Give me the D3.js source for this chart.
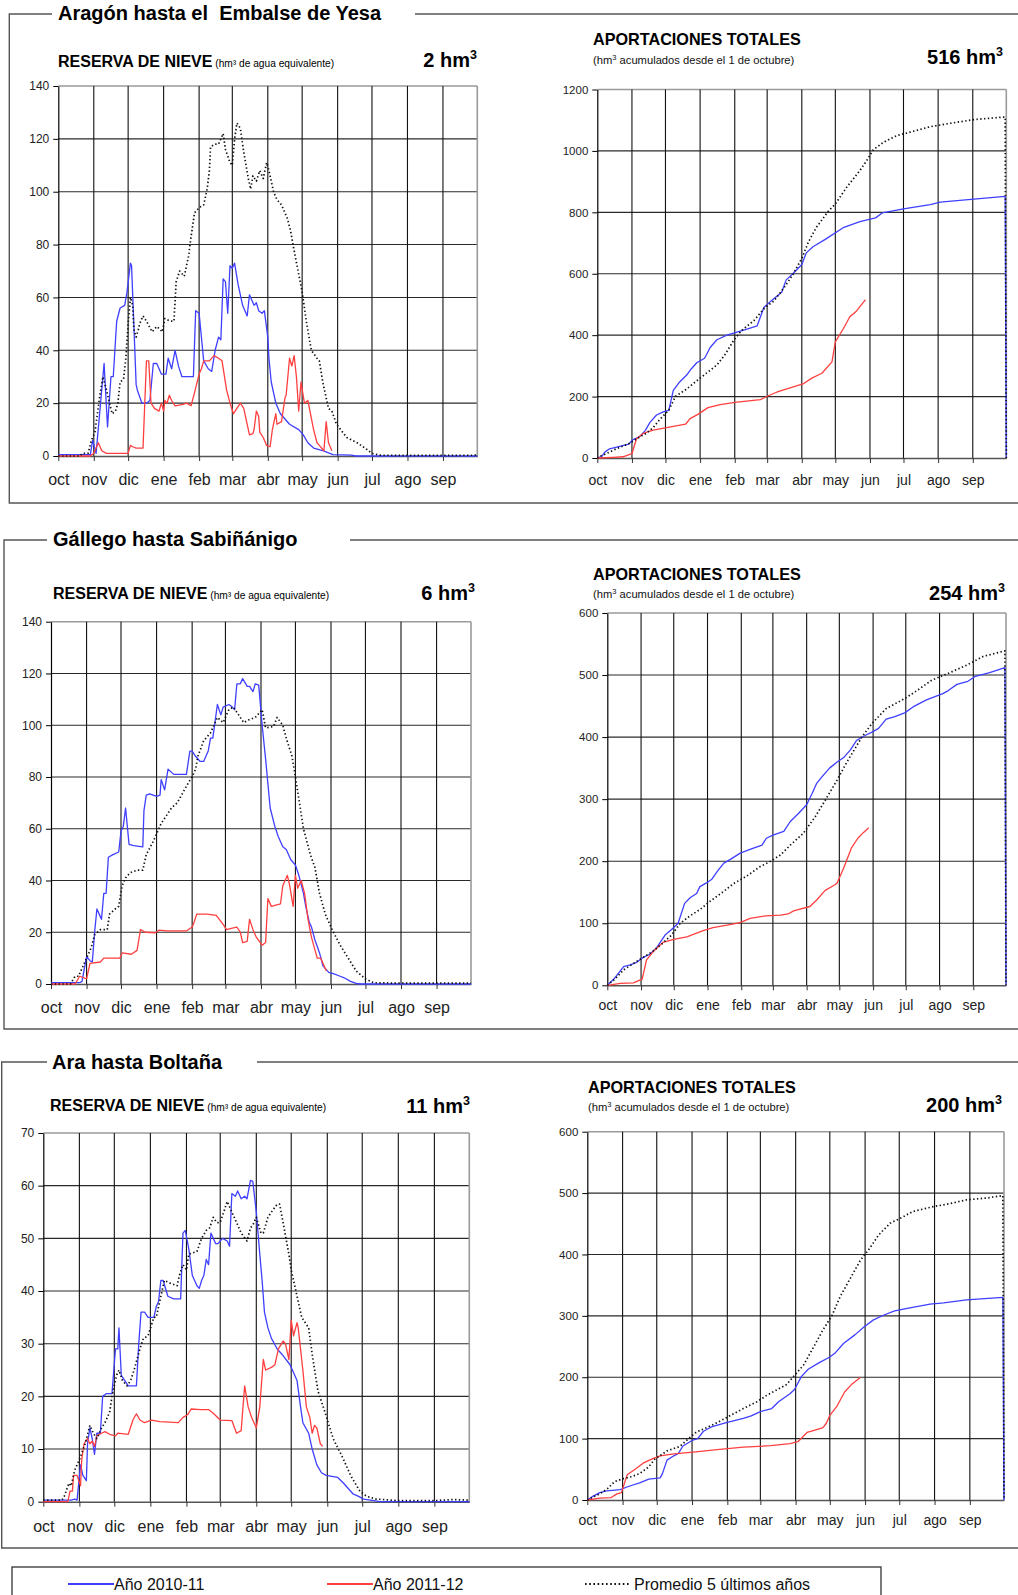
<!DOCTYPE html>
<html>
<head>
<meta charset="utf-8">
<script src="https://cdn.jsdelivr.net/npm/d3@7"></script>
<style>
	body { margin: 0; background: #fff; }
	svg { display: block; font-family: "Liberation Sans", Arial, sans-serif; }
	text { white-space: pre; }
</style>
</head>
<body>
<svg id="chart" width="1018" height="1595"></svg>
<script>
// Hydrological year: day 0 = 1 October
const monthLabels = ['oct', 'nov', 'dic', 'ene', 'feb', 'mar', 'abr', 'may', 'jun', 'jul', 'ago', 'sep']
const monthStarts = [0, 31, 61, 92, 123, 152, 183, 213, 244, 274, 305, 336]
const yearDays = 366

const basins = ['Aragón hasta el  Embalse de Yesa', 'Gállego hasta Sabiñánigo', 'Ara hasta Boltaña']
const nieveTotals = [2, 6, 11]
const aportTotals = [516, 254, 200]
const nieveMax = [140, 140, 70]
const aportMax = [1200, 600, 600]
const seriesNames = ['Año 2010-11', 'Año 2011-12', 'Promedio 5 últimos años']

// [day, hm3]
const aragonNieve1011 = [[0,0.5],[28,0.5],[30,6],[33,1],[40,35],[43,11],[46,30],[48,30],[51,51],[54,56],[58,57],[60,62],[63,73],[64,72],[68,27],[69,25],[73,20],[77,20],[80,21],[83,35],[86,35],[90,31],[94,31],[96,37],[99,33],[102,40],[105,34],[108,30],[118,30],[120,55],[123,54],[127,36],[131,33],[134,32],[137,40],[140,45],[142,44],[144,67],[146,66],[148,54],[150,72],[152,71],[154,73],[157,65],[161,57],[162,56],[165,53],[167,61],[169,59],[171,57],[173,58],[175,55],[178,54],[180,55],[183,45],[184,37],[186,28],[190,20],[194,16],[202,12],[210,10],[214,8],[218,5],[223,3],[231,2],[240,0.5],[256,0.3],[260,0],[366,0]]
const aragonNieve1112 = [[0,0],[28,0],[31,1],[35,5],[38,2],[42,1],[61,1],[63,4],[65,3.5],[68,3],[74,3],[77,36],[79,36],[81,20],[84,18],[88,17],[90,20],[92,17],[93,21],[95,20],[97,23],[99,21],[102,19],[109,19.5],[112,20],[116,19],[119,24],[123,31],[125,33],[127,36],[132,36],[136,38],[140,37],[143,36],[147,25],[150,20],[153,16],[156,18],[159,20],[162,18],[165,12],[167,8],[170,8.5],[171,10],[173,17],[175,15],[176,9],[179,7],[182,4],[185,3.5],[187,10],[190,16],[191,12],[195,13],[198,22],[199,23],[202,37],[204,34],[206,38],[208,30],[210,17],[212,28],[215,20],[218,21],[223,10],[226,5],[228,4],[232,2],[234,13],[236,5],[239,2]]
const aragonNieveMedia = [[0,0],[19,0],[21,1],[26,1],[29,6],[32,9],[36,22],[39,30],[42,25],[47,16],[50,17],[52,20],[54,28],[57,29],[59,37],[61,50],[63,60],[65,57],[66,48],[68,45],[70,48],[71,50],[74,53],[77,51],[82,47],[86,49],[91,47],[93,52],[98,51],[101,51],[103,66],[106,70],[110,68],[112,72],[114,76],[115,80],[119,92],[123,94],[127,95],[130,101],[132,108],[133,117],[137,118],[140,118],[144,122],[146,116],[150,111],[152,110],[154,120],[156,126],[159,124],[162,115],[166,105],[168,101],[170,106],[173,104],[176,108],[179,105],[182,111],[184,108],[188,100],[191,97],[195,95],[200,90],[203,85],[205,80],[213,62],[217,50],[221,40],[226,37],[228,36],[231,28],[236,18],[239,17],[243,12],[252,7],[261,5],[268,3],[274,1],[281,0.3],[313,0.2],[366,0.3]]

const aragonAport1011 = [[0,0],[4,5],[7,20],[11,30],[20,38],[28,45],[32,60],[38,70],[43,90],[47,115],[53,140],[59,150],[64,155],[68,220],[73,245],[80,270],[84,290],[89,310],[96,325],[101,360],[107,385],[116,400],[125,410],[134,420],[143,430],[149,490],[155,510],[165,540],[169,580],[175,600],[183,630],[187,668],[193,688],[204,712],[220,750],[235,770],[249,782],[255,798],[274,811],[298,825],[307,833],[337,843],[365,852],[366,0]]
const aragonAport1112 = [[0,0],[14,2],[23,4],[31,14],[35,62],[41,80],[50,91],[62,99],[79,110],[83,128],[90,142],[99,164],[110,174],[125,182],[146,190],[152,201],[161,215],[184,241],[192,260],[201,276],[210,313],[213,378],[220,420],[226,460],[232,479],[240,516]]
const aragonAportMedia = [[0,0],[2,5],[8,14],[17,30],[28,46],[35,62],[44,81],[50,99],[56,126],[64,156],[70,201],[79,222],[92,260],[107,303],[114,335],[122,383],[129,415],[140,447],[150,490],[158,511],[167,554],[175,597],[183,650],[189,704],[196,751],[207,805],[213,827],[223,881],[235,936],[241,968],[247,1004],[256,1028],[268,1050],[280,1061],[298,1079],[316,1090],[337,1102],[363,1110],[365,1110],[366,0]]

const gallegoNieve1011 = [[0,0.5],[25,0.5],[27,1],[31,10.6],[34,9],[36,8.5],[38,20],[40,29],[42,27],[44,25],[46,35],[48,35],[50,49],[54,50],[59,51],[61,59],[63,61],[65,68],[68,54],[72,53.5],[80,53],[81,67],[83,73],[86,73.5],[92,72.5],[95,73],[96,79],[99,75],[102,83],[107,81],[118,81],[121,90],[123,90],[126,88],[130,86],[133,86],[137,90],[139,95],[141,95],[145,108],[148,104],[150,107],[155,108],[158,107],[160,106],[162,116],[165,116],[167,118],[171,115],[173,115],[176,113],[178,116],[181,115.5],[184,100],[187,87],[191,68],[195,61],[198,57],[202,53],[205,52],[209,48],[213,46],[216,42],[220,35],[222,30],[225,24],[227,22],[230,17],[234,12],[237,7],[242,4.5],[246,4],[252,3],[255,2.5],[261,1],[266,0.2],[270,0],[366,0]]
const gallegoNieve1112 = [[0,0],[21,0],[25,3],[31,2],[34,8],[43,8.5],[46,10],[60,10],[62,12],[70,11.5],[75,13],[78,21],[82,20],[91,19.8],[94,20.8],[101,20.5],[118,20.5],[123,22],[124,23],[127,27],[136,27],[144,26.5],[150,23],[153,21],[157,21.5],[162,22],[165,20],[167,16],[171,16.5],[173,25],[176,21],[179,18],[184,15],[187,16],[189,33],[192,30],[200,31],[202,38],[204,40],[206,42],[208,38],[211,30],[213,42],[215,37],[218,40],[221,35],[224,25],[227,18],[232,10],[235,10],[237,8],[240,5]]
const gallegoNieveMedia = [[0,0],[17,0],[21,3],[24,3],[27,6],[32,11],[35,14],[38,19],[43,21],[49,21],[51,27],[56,29],[59,30],[62,38],[65,41],[69,43],[75,44],[80,44],[83,50],[89,55],[92,58],[96,62],[105,68],[110,70],[120,78],[123,80],[126,83],[128,88],[133,94],[139,97],[145,103],[150,101],[155,106],[159,107],[168,101],[172,102],[178,103],[184,106],[187,99],[194,99.5],[197,103],[202,100],[205,95],[210,88],[213,80],[220,60],[226,50],[230,45],[234,35],[239,27],[245,21],[252,15],[259,10],[266,5],[274,2],[281,0.5],[304,0.3],[366,0.3]]

const gallegoAport1011 = [[0,0],[6,10],[15,30],[21,33],[27,37],[33,45],[39,50],[45,60],[53,81],[59,90],[65,100],[71,132],[76,141],[82,148],[85,159],[91,165],[96,171],[102,186],[107,197],[113,203],[122,213],[131,219],[142,226],[146,237],[152,242],[162,248],[168,264],[175,276],[183,291],[188,309],[192,325],[197,336],[204,350],[211,360],[217,367],[223,379],[229,395],[237,403],[243,408],[249,414],[256,429],[264,433],[273,439],[281,449],[293,460],[308,470],[313,475],[321,485],[331,490],[338,498],[351,504],[365,512],[366,0]]
const gallegoAport1112 = [[0,0],[12,3],[24,4],[32,10],[36,41],[42,54],[51,69],[61,74],[73,78],[79,82],[88,88],[97,93],[110,97],[122,101],[131,108],[146,112],[159,113],[166,115],[171,120],[186,127],[192,137],[200,153],[209,162],[211,165],[217,189],[224,221],[230,237],[235,246],[240,254]]
const gallegoAportMedia = [[0,0],[7,10],[15,25],[24,35],[33,45],[42,55],[51,68],[59,81],[67,100],[76,112],[85,122],[94,135],[105,149],[116,164],[128,176],[140,191],[149,199],[159,210],[168,226],[180,245],[191,272],[201,301],[211,331],[220,360],[234,401],[243,422],[256,446],[273,462],[286,477],[298,492],[312,502],[330,516],[345,530],[365,539],[366,0]]

const araNieve1011 = [[0,0.3],[24,0.3],[27,0.5],[29,0.3],[32,7],[34,5],[37,4],[38,11],[40,14],[42,12],[44,9],[46,13],[49,13],[51,20],[54,20.5],[59,20.5],[62,29],[64,29],[65,33],[67,24],[70,23],[73,22],[80,22],[82,30],[84,36],[87,36],[90,35],[95,35],[97,37],[99,38],[101,42],[103,42],[107,39],[112,38.5],[118,38.5],[120,51],[122,51.5],[125,48],[128,43],[132,41],[134,40.5],[136,42],[138,43],[140,46],[142,45],[144,51],[148,49],[150,49],[154,50],[158,49.5],[160,48.5],[162,58.5],[165,58],[167,59],[170,57.5],[173,58],[175,57.5],[178,61],[180,60.8],[183,55],[186,47],[188,42],[190,36],[193,33],[196,31],[201,29],[205,28],[212,26],[218,23],[221,18],[223,15],[228,13],[231,10],[235,7],[239,5.5],[243,5],[248,4.8],[253,4.6],[258,3.5],[262,2.5],[266,1.5],[271,1],[275,0.5],[284,0.2],[289,0],[366,0]]
const araNieve1112 = [[0,0],[21,0],[23,2],[25,2],[26,5],[29,5],[32,3],[33,8],[35,11],[38,12],[40,11],[42,11.5],[44,10.5],[46,12.5],[50,13],[53,13.3],[57,12.8],[62,12.5],[64,13],[73,12.8],[77,15.5],[80,16.7],[83,15.5],[87,15],[93,15.5],[100,15.2],[116,15],[120,16],[124,16.5],[127,17.6],[135,17.5],[142,17.5],[146,16.8],[152,15.5],[162,15.4],[166,13],[170,13.5],[173,22],[176,18],[179,16],[183,14],[186,18],[189,27],[191,25],[196,25.5],[199,26],[202,29],[206,30.5],[208,30],[211,27],[213,34.5],[215,31.5],[218,34],[219,33],[223,25],[226,18],[229,16],[231,13],[233,14.5],[235,14],[238,11],[240,10.5]]
const araNieveMedia = [[0,0.3],[16,0.3],[18,1],[22,3.5],[24,3],[27,6],[31,8],[36,11],[40,14.5],[43,13],[46,12],[50,14],[53,15],[57,17],[59,20],[63,24],[65,25],[68,23],[72,22],[75,23],[78,25],[83,29],[86,31],[90,31.5],[95,35],[97,35],[100,38],[104,42],[109,41.5],[115,41],[117,43],[120,45],[123,44],[125,47],[132,47.5],[136,50],[140,51.5],[143,52],[146,54],[149,53],[152,53],[158,57],[160,56],[166,53],[170,51],[175,49.5],[178,52],[180,52.5],[183,54],[187,51],[189,51],[193,54],[196,55],[201,56.5],[203,56.5],[206,53],[211,47],[213,44],[218,39],[222,35],[228,33],[231,28],[236,21],[242,17],[249,12],[258,8],[264,5],[272,2],[278,1],[286,0.5],[306,0.2],[335,0.2],[352,0.4],[366,0.3]]

const araAport1011 = [[0,0],[4,5],[11,12],[17,15],[29,17],[36,22],[46,28],[54,34],[64,36],[66,43],[70,65],[76,72],[80,76],[84,88],[92,97],[97,100],[102,112],[109,119],[122,126],[137,133],[144,137],[152,144],[162,149],[168,160],[178,173],[182,180],[188,201],[194,213],[203,223],[213,233],[218,240],[225,255],[235,269],[243,282],[251,293],[260,301],[270,308],[281,312],[301,319],[313,321],[333,326],[365,330],[366,0]]
const araAport1112 = [[0,0],[11,3],[21,4],[26,10],[30,12],[35,41],[42,50],[49,60],[57,67],[64,72],[76,75],[93,78],[114,82],[137,86],[161,88.5],[178,92],[185,95],[193,110],[200,114],[207,118],[210,125],[213,138],[219,152],[226,176],[232,188],[240,200]]
const araAportMedia = [[0,0],[5,5],[11,10],[18,19],[24,30],[32,35],[39,38],[46,43],[54,54],[59,66],[70,80],[81,87],[89,100],[96,111],[105,118],[114,126],[122,134],[128,140],[137,149],[149,160],[158,171],[163,176],[175,188],[181,201],[190,220],[199,250],[207,277],[215,301],[222,331],[231,361],[240,391],[248,410],[256,432],[266,451],[275,459],[286,470],[304,478],[319,483],[333,489],[351,492],[365,496],[366,0]]

const nieveSeries = [
	[aragonNieve1011, aragonNieve1112, aragonNieveMedia],
	[gallegoNieve1011, gallegoNieve1112, gallegoNieveMedia],
	[araNieve1011, araNieve1112, araNieveMedia]
]
const aportSeries = [
	[aragonAport1011, aragonAport1112, aragonAportMedia],
	[gallegoAport1011, gallegoAport1112, gallegoAportMedia],
	[araAport1011, araAport1112, araAportMedia]
]

// Page geometry, one entry per basin
const layout = [
	{ top: 14, left: 9.3, bottom: 503, titleX: 58, titleY: 20, gap: [52, 415],
	  nieve: { x0: 58.3, x1: 477.3, y0: 456, y1: 86, tx: 58, ty: 67, totX: 477, totY: 67, lab: 29 },
	  aport: { x0: 597.3, x1: 1006.3, y0: 458, y1: 89.5, tx: 593, ty: 45, sy: 64, totX: 1003, totY: 64, lab: 27 } },
	{ top: 540, left: 4, bottom: 1029, titleX: 53, titleY: 546, gap: [47, 350],
	  nieve: { x0: 51, x1: 471, y0: 984, y1: 621.7, tx: 53, ty: 599, totX: 475, totY: 600, lab: 29 },
	  aport: { x0: 607.3, x1: 1006, y0: 985.3, y1: 613, tx: 593, ty: 580, sy: 598, totX: 1005, totY: 600, lab: 25 } },
	{ top: 1062, left: 1.7, bottom: 1548, titleX: 52, titleY: 1069, gap: [47, 257],
	  nieve: { x0: 43.3, x1: 469.3, y0: 1501.7, y1: 1133, tx: 50, ty: 1111, totX: 470, totY: 1113, lab: 30 },
	  aport: { x0: 587.3, x1: 1004, y0: 1500, y1: 1131.7, tx: 588, ty: 1093, sy: 1111, totX: 1002, totY: 1112, lab: 25 } }
]

const colors = ['#3f3fff', '#ff3f3f', '#111']

const $svg = d3.select('#chart')

function drawPanel($g, box, max, step, series, big) {
	const x = d3.scaleLinear().domain([0, yearDays]).range([box.x0, box.x1])
	const y = d3.scaleLinear().domain([0, max]).range([box.y0, box.y1])
	const ticks = d3.range(0, max + step / 2, step)

	// grid
	$g.append('g').selectAll('line')
		.data(ticks.slice(1))
		.join('line')
		.attr('x1', box.x0).attr('x2', box.x1)
		.attr('y1', d => y(d)).attr('y2', d => y(d))
		.attr('stroke', d => d === max ? '#9a9a9a' : '#2a2a2a')
		.attr('stroke-width', d => d === max ? 1.6 : 1.1)

	$g.append('g').selectAll('line')
		.data(monthStarts.slice(1).concat([yearDays]))
		.join('line')
		.attr('x1', d => x(d)).attr('x2', d => x(d))
		.attr('y1', box.y0).attr('y2', box.y1)
		.attr('stroke', d => d === yearDays ? '#9a9a9a' : '#111')
		.attr('stroke-width', d => d === yearDays ? 1.6 : 1.1)

	// axes
	const $xa = $g.append('g')
		.attr('transform', `translate(0,${box.y0})`)
		.call(d3.axisBottom(x).tickValues(monthStarts).tickSize(5).tickSizeOuter(0)
			.tickFormat((d, i) => monthLabels[i]))
	$xa.select('.domain').attr('stroke', '#555').attr('stroke-width', 1.4)
	$xa.selectAll('.tick line').attr('stroke', '#333')
	$xa.selectAll('text')
		.attr('y', box.lab).attr('dy', null)
		.attr('fill', '#222')
		.style('font-size', big ? '16px' : '14px')
		.style('font-family', '"Liberation Sans", Arial, sans-serif')

	const $ya = $g.append('g')
		.attr('transform', `translate(${box.x0},0)`)
		.call(d3.axisLeft(y).tickValues(ticks).tickSize(5).tickSizeOuter(0).tickPadding(4)
			.tickFormat(d3.format('d')))
	$ya.select('.domain').attr('stroke', '#000').attr('stroke-width', 1.2)
	$ya.selectAll('.tick line').attr('stroke', '#000')
	$ya.selectAll('text')
		.attr('fill', '#222')
		.style('font-size', big ? '12px' : '11.5px')
		.style('font-family', '"Liberation Sans", Arial, sans-serif')

	// series
	const line = d3.line().x(d => x(d[0])).y(d => y(d[1]))
	series.forEach((s, i) => {
		$g.append('path')
			.datum(s)
			.attr('d', line)
			.attr('fill', 'none')
			.attr('stroke', colors[i])
			.attr('stroke-width', i === 2 ? 1.7 : 1.3)
			.attr('stroke-dasharray', i === 2 ? '1.4 2.4' : null)
			.attr('stroke-linejoin', 'round')
	})
}

layout.forEach((L, idx) => {
	const $s = $svg.append('g')

	// section frame with title cut into the top line
	$s.append('path')
		.attr('d', `M${L.gap[0]},${L.top}H${L.left}V${L.bottom}H1018M${L.gap[1]},${L.top}H1018`)
		.attr('fill', 'none')
		.attr('stroke', '#555')
		.attr('stroke-width', 1.4)
	$s.append('text')
		.attr('x', L.titleX).attr('y', L.titleY)
		.style('font-size', '20px').style('font-weight', 'bold')
		.attr('fill', '#000')
		.text(basins[idx])

	// snow reserve panel
	const n = L.nieve
	const $t1 = $s.append('text').attr('x', n.tx).attr('y', n.ty).attr('fill', '#000')
	$t1.append('tspan').style('font-size', '16px').style('font-weight', 'bold').text('RESERVA DE NIEVE')
	$t1.append('tspan').style('font-size', '10.2px').text(' (hm³ de agua equivalente)')

	const $tot1 = $s.append('text').attr('x', n.totX).attr('y', n.totY)
		.attr('text-anchor', 'end').style('font-weight', 'bold').attr('fill', '#000')
	$tot1.append('tspan').style('font-size', '20px').text(`${nieveTotals[idx]} hm`)
	$tot1.append('tspan').style('font-size', '12.5px').attr('dy', -8).text('3')

	drawPanel($s.append('g'), n, nieveMax[idx], nieveMax[idx] / 7, nieveSeries[idx], true)

	// accumulated inflow panel
	const a = L.aport
	$s.append('text').attr('x', a.tx).attr('y', a.ty)
		.style('font-size', '16.2px').style('font-weight', 'bold').attr('fill', '#000')
		.text('APORTACIONES TOTALES')
	const $sub = $s.append('text').attr('x', a.tx).attr('y', a.sy).attr('fill', '#111')
		.style('font-size', '11.2px')
	$sub.append('tspan').text('(hm')
	$sub.append('tspan').style('font-size', '7.5px').attr('dy', -4).text('3')
	$sub.append('tspan').attr('dy', 4).text(' acumulados desde el 1 de octubre)')

	const $tot2 = $s.append('text').attr('x', a.totX).attr('y', a.totY)
		.attr('text-anchor', 'end').style('font-weight', 'bold').attr('fill', '#000')
	$tot2.append('tspan').style('font-size', '20px').text(`${aportTotals[idx]} hm`)
	$tot2.append('tspan').style('font-size', '12.5px').attr('dy', -8).text('3')

	drawPanel($s.append('g'), a, aportMax[idx], aportMax[idx] === 1200 ? 200 : 100, aportSeries[idx], false)
})

// legend
const $legend = $svg.append('g')
$legend.append('rect')
	.attr('x', 12).attr('y', 1567).attr('width', 869).attr('height', 40)
	.attr('fill', 'none').attr('stroke', '#333').attr('stroke-width', 1.3)

const legendX = [68, 327, 585]
const $item = $legend.selectAll('.item')
	.data(seriesNames)
	.join('g')
	.attr('class', 'item')
	.attr('transform', (d, i) => `translate(${legendX[i]},1584)`)
$item.append('line')
	.attr('x1', 0).attr('x2', (d, i) => i === 2 ? 44 : 46)
	.attr('stroke', (d, i) => colors[i])
	.attr('stroke-width', (d, i) => i === 2 ? 1.8 : 2)
	.attr('stroke-dasharray', (d, i) => i === 2 ? '1.6 2.6' : null)
$item.append('text')
	.attr('x', (d, i) => i === 2 ? 49 : 46).attr('y', 6)
	.style('font-size', '16px').attr('fill', '#111')
	.text(d => d)
</script>
</body>
</html>
